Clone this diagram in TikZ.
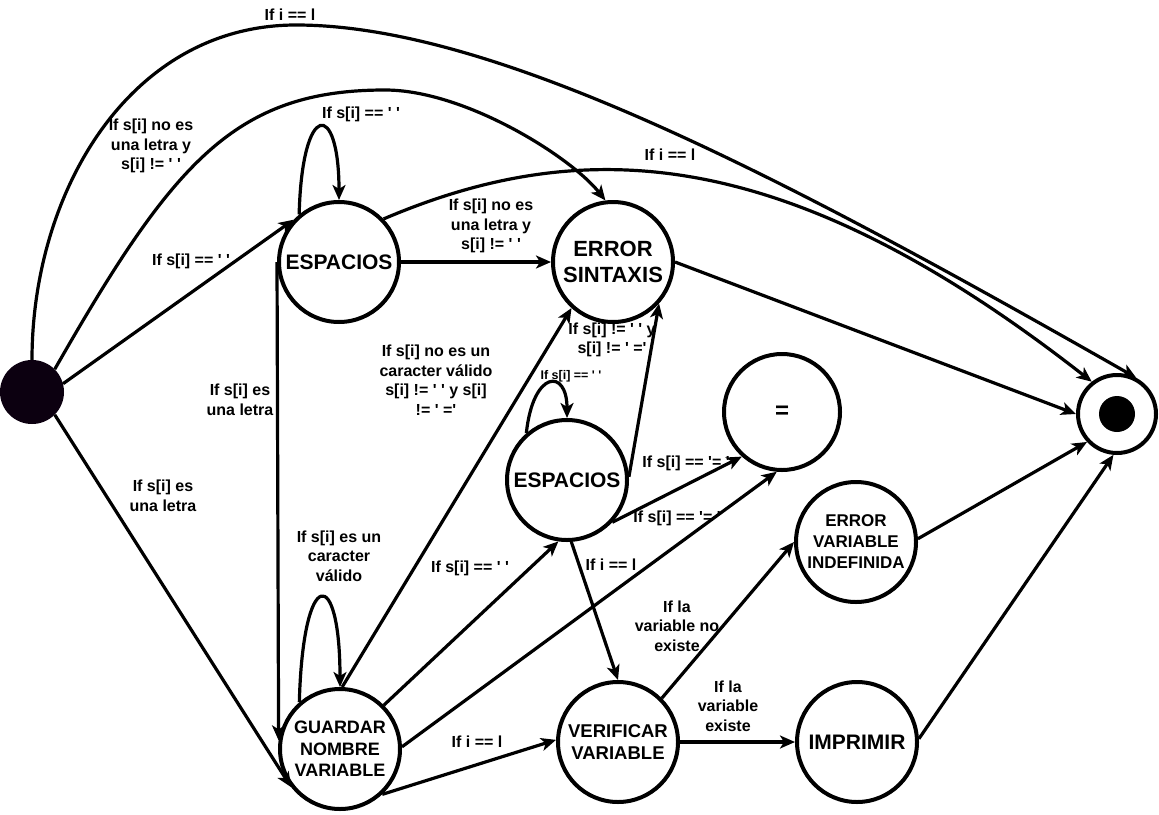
\documentclass[tikz,border=0pt]{standalone}
\usepackage{fontspec}
\setmainfont{Liberation Sans}
\usetikzlibrary{arrows.meta}
\newcommand{\myq}{\textquotesingle}
\definecolor{inicolor}{RGB}{12,0,16}
\begin{document}
\begin{tikzpicture}[x=1pt,y=1pt,
  state/.style={circle, draw, line width=4pt, fill=white, inner sep=0pt, minimum size=120pt, align=center, font=\bfseries\fontsize{21}{25}\selectfont},
  lbl/.style={align=center, font=\bfseries\fontsize{16}{19.5}\selectfont, inner sep=0pt},
  smalllbl/.style={align=center, font=\bfseries\fontsize{12.5}{15}\selectfont, inner sep=0pt},
  edge/.style={line width=3.2pt, -{Stealth[length=15pt,width=13pt,inset=4pt]}},
  ]
\useasboundingbox (0,0) rectangle (1159,-814);
% states
\node[circle, fill=inicolor, minimum size=64pt, inner sep=0pt] (ini) at (32,-392) {};
\node[state] (esp1) at (339,-262) {ESPACIOS};
\node[state, font=\bfseries\fontsize{22}{26.5}\selectfont] (err) at (613,-262) {ERROR\\SINTAXIS};
\node[state, minimum size=116pt, font=\bfseries\fontsize{24}{28}\selectfont] (eq) at (782,-412) {=};
\node[state] (esp2) at (567,-480) {ESPACIOS};
\node[state, font=\bfseries\fontsize{18}{21.5}\selectfont] (gua) at (340,-749) {GUARDAR\\NOMBRE\\VARIABLE};
\node[state, font=\bfseries\fontsize{18.5}{22}\selectfont] (ver) at (618,-742) {VERIFICAR\\VARIABLE};
\node[state, font=\bfseries\fontsize{17}{21}\selectfont] (evi) at (856,-542) {ERROR\\VARIABLE\\INDEFINIDA};
\node[state] (imp) at (857,-742) {IMPRIMIR};
\node[circle, draw, line width=4pt, fill=white, minimum size=78pt, inner sep=0pt] (fin) at (1117,-414) {};
\node[circle, fill=black, minimum size=36pt, inner sep=0pt] (fininner) at (fin.center) {};
% labels
\node[lbl] (la) at (290,-15) {If i == l};
\node[lbl] (lb) at (151,-146) {If s[i] no es\\una letra y\\s[i] != \myq\ \myq};
\node[lbl] (lc) at (361,-114) {If s[i] == \myq\ \myq};
\node[lbl] (ld) at (670,-155) {If i == l};
\node[lbl] (le) at (191,-261) {If s[i] == \myq\ \myq};
\node[lbl] (lf) at (491,-226) {If s[i] no es\\una letra y\\s[i] != \myq\ \myq};
\node[lbl] (lg) at (240,-400) {If s[i] es\\una letra};
\node[lbl] (lh) at (163,-496) {If s[i] es\\una letra};
\node[lbl] (li) at (436,-380) {If s[i] no es un\\caracter válido\\s[i] != \myq\ \myq\ y s[i]\\!= \myq\ =\myq};
\node[lbl] (lj) at (612,-340) {If s[i] != \myq\ \myq\ y\\s[i] != \myq\ =\myq};
\node[smalllbl] (lk) at (571,-376) {If s[i] == \myq\ \myq};
\node[lbl] (ll) at (686,-463) {If s[i] == \myq= \myq};
\node[lbl] (lm) at (677,-518) {If s[i] == \myq= \myq};
\node[lbl] (ln) at (611,-565) {If i == l};
\node[lbl] (lo) at (470,-568) {If s[i] == \myq\ \myq};
\node[lbl] (lp) at (339,-556) {If s[i] es un\\caracter\\válido};
\node[lbl] (lq) at (477,-742) {If i == l};
\node[lbl] (lr) at (677,-626) {If la\\variable no\\existe};
\node[lbl] (ls) at (728,-706) {If la\\variable\\existe};
% edges
\draw[edge] (ini.90) .. controls (32,-193) and (129,-25) .. (296,-25) .. controls (496,-25) and (786,-178.5) .. (fin.62);
\draw[edge] (ini.45) .. controls (173,-162) and (235,-90) .. (385,-90) .. controls (465,-90) and (571,-157) .. (err.97);
\draw[edge] (ini.15) -- (esp1.137);
\draw[edge] (ini.-45) -- (gua.218);
\draw[edge] (esp1.130) .. controls (302,-100) and (339,-100) .. (esp1.90);
\draw[edge] (esp1.east) -- (err.west);
\draw[edge] (esp1.west) -- (gua.172);
\draw[edge] (esp1.44) .. controls (585,-133) and (788,-144) .. (fin.128);
\draw[edge] (gua.131) .. controls (303,-565) and (340,-565) .. (gua.90);
\draw[edge] (gua.88) -- (err.228);
\draw[edge] (esp2.131) .. controls (533,-370) and (567,-368) .. (esp2.90);
\draw[edge] (esp2.3) -- (err.-42);
\draw[edge] (esp2.-43) -- (eq.228);
\draw[edge] (gua.2) -- (eq.265);
\draw[edge] (gua.45) -- (esp2.262);
\draw[edge] (esp2.274) -- (ver.90);
\draw[edge] (gua.-47) -- (ver.178);
\draw[edge] (ver.45) -- (evi.180);
\draw[edge] (ver.east) -- (imp.west);
\draw[edge] (evi.3) -- (fin.223);
\draw[edge] (imp.3) -- (fin.265);
\draw[edge] (err.east) -- (fin.180);
\end{tikzpicture}
\end{document}
